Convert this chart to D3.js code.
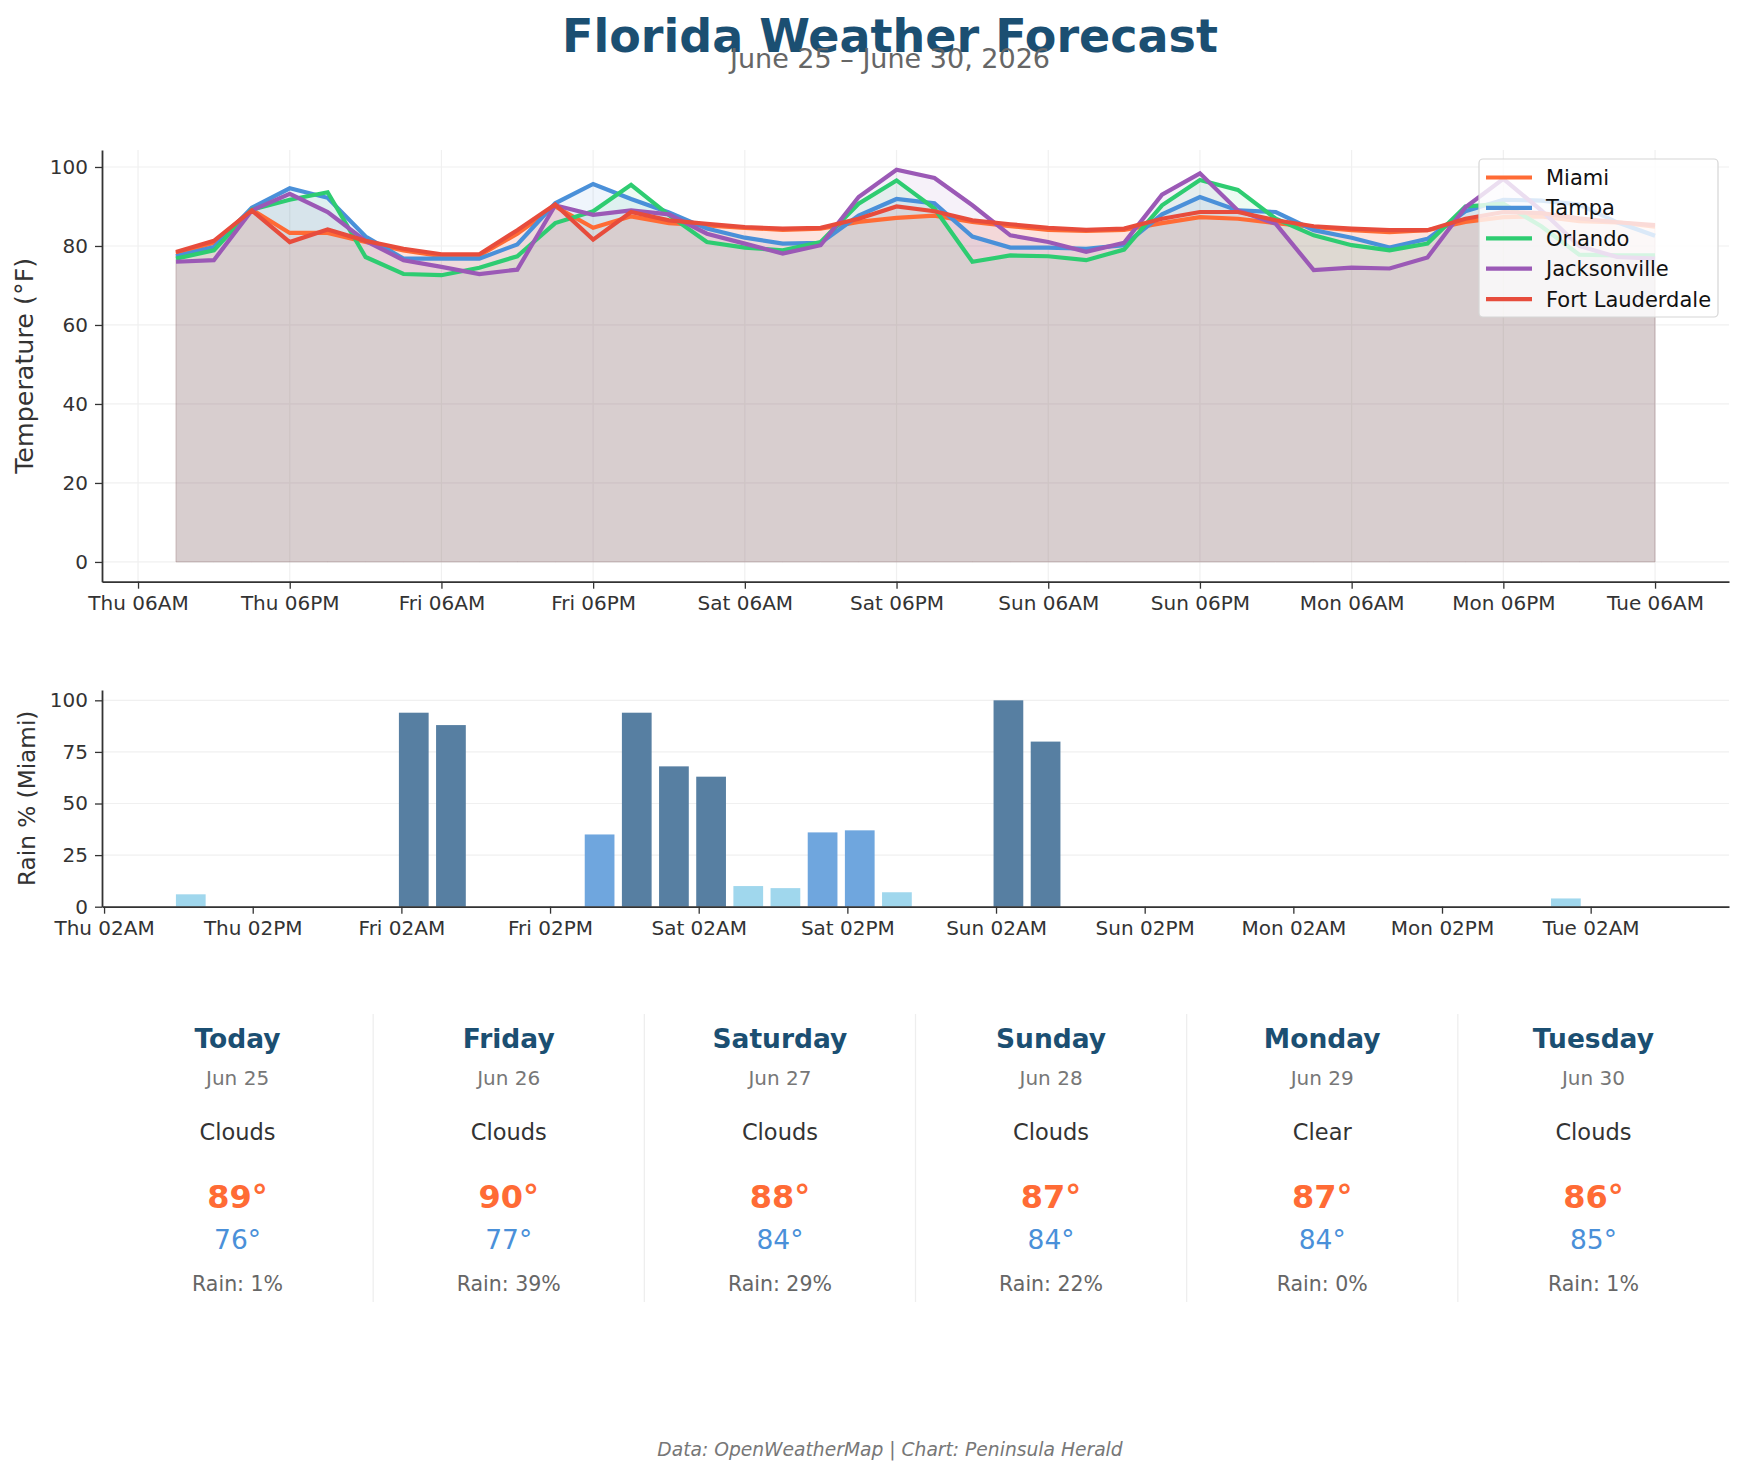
<!DOCTYPE html>
<html>
<head>
<meta charset="utf-8">
<script src="https://cdn.jsdelivr.net/npm/d3@7"></script>
<style>
  body { margin: 0; background: #fff; }
  svg { font-family: "DejaVu Sans", sans-serif; }
</style>
</head>
<body>
<div id="chart"></div>
<script>
// ---------- Data ----------
const times = [
  "2026-06-25T09:00", "2026-06-25T12:00", "2026-06-25T15:00", "2026-06-25T18:00", "2026-06-25T21:00",
  "2026-06-26T00:00", "2026-06-26T03:00", "2026-06-26T06:00", "2026-06-26T09:00", "2026-06-26T12:00",
  "2026-06-26T15:00", "2026-06-26T18:00", "2026-06-26T21:00", "2026-06-27T00:00", "2026-06-27T03:00",
  "2026-06-27T06:00", "2026-06-27T09:00", "2026-06-27T12:00", "2026-06-27T15:00", "2026-06-27T18:00",
  "2026-06-27T21:00", "2026-06-28T00:00", "2026-06-28T03:00", "2026-06-28T06:00", "2026-06-28T09:00",
  "2026-06-28T12:00", "2026-06-28T15:00", "2026-06-28T18:00", "2026-06-28T21:00", "2026-06-29T00:00",
  "2026-06-29T03:00", "2026-06-29T06:00", "2026-06-29T09:00", "2026-06-29T12:00", "2026-06-29T15:00",
  "2026-06-29T18:00", "2026-06-29T21:00", "2026-06-30T00:00", "2026-06-30T03:00", "2026-06-30T06:00"
];

const cities = ["Miami", "Tampa", "Orlando", "Jacksonville", "Fort Lauderdale"];
const cityColors = ["#FF6B35", "#4A90D9", "#2ECC71", "#9B59B6", "#E74C3C"];

const miami = [78.1, 80.8, 89.2, 83.3, 83.3, 81.0, 78.9, 77.4, 77.6, 83.1, 90.0, 84.6, 87.5, 85.8, 85.2, 84.6, 84.1, 84.4, 86.1, 87.1,
  87.7, 86.1, 85.0, 84.1, 83.8, 84.1, 85.8, 87.3, 86.9, 85.8, 84.8, 84.0, 83.5, 84.0, 86.1, 87.3, 87.5, 86.3, 86.0, 84.9];
const tampa = [77.4, 79.7, 89.7, 94.6, 92.2, 82.4, 76.8, 76.8, 76.8, 80.4, 90.8, 95.7, 91.9, 88.5, 84.4, 82.1, 80.6, 80.8, 87.7, 91.9,
  90.8, 82.4, 79.6, 79.6, 79.3, 80.2, 88.0, 92.4, 89.0, 88.6, 84.0, 82.1, 79.6, 81.8, 88.8, 91.7, 91.5, 90.5, 86.0, 82.6];
const orlando = [76.8, 78.9, 89.2, 91.7, 93.6, 77.2, 72.9, 72.6, 74.5, 77.4, 85.8, 88.8, 95.5, 87.8, 81.0, 79.6, 78.9, 81.0, 90.7, 96.6,
  89.5, 76.0, 77.6, 77.4, 76.4, 79.1, 90.3, 96.7, 94.2, 86.9, 82.7, 80.2, 78.9, 80.6, 90.0, 90.7, 85.0, 77.8, 77.6, 77.6];
const jacksonville = [76.0, 76.4, 89.0, 93.2, 88.6, 81.3, 76.4, 74.7, 72.9, 74.0, 90.3, 87.9, 89.0, 88.0, 83.1, 80.6, 78.1, 80.2, 92.4, 99.3,
  97.2, 90.3, 82.7, 81.0, 78.5, 80.8, 93.0, 98.4, 89.0, 85.6, 73.9, 74.5, 74.3, 77.1, 89.8, 97.0, 89.0, 80.0, 77.2, 76.8];
const fortLauderdale = [78.5, 81.3, 89.0, 81.0, 84.2, 81.3, 79.3, 77.9, 77.9, 84.0, 90.5, 81.6, 88.6, 86.5, 85.6, 84.8, 84.4, 84.6, 86.9, 90.0,
  88.8, 86.5, 85.5, 84.6, 84.1, 84.4, 86.9, 88.6, 88.6, 86.5, 85.0, 84.4, 84.0, 84.0, 86.9, 88.6, 88.3, 87.0, 86.0, 85.3];
const temps = [miami, tampa, orlando, jacksonville, fortLauderdale];

// Miami rain probability (%) at each forecast step
const rainMiami = [6, 0, 0, 0, 0, 0, 94, 88, 0, 0, 0, 35, 94, 68, 63, 10, 9, 36, 37, 7,
  0, 0, 100, 80, 0, 0, 0, 0, 0, 0, 0, 0, 0, 0, 0, 0, 0, 4, 0, 0];

const tempTicks = ["2026-06-25T06:00", "2026-06-25T18:00", "2026-06-26T06:00", "2026-06-26T18:00", "2026-06-27T06:00",
  "2026-06-27T18:00", "2026-06-28T06:00", "2026-06-28T18:00", "2026-06-29T06:00", "2026-06-29T18:00", "2026-06-30T06:00"];
const rainTicks = ["2026-06-25T02:00", "2026-06-25T14:00", "2026-06-26T02:00", "2026-06-26T14:00", "2026-06-27T02:00",
  "2026-06-27T14:00", "2026-06-28T02:00", "2026-06-28T14:00", "2026-06-29T02:00", "2026-06-29T14:00", "2026-06-30T02:00"];
const tempYTicks = [0, 20, 40, 60, 80, 100];
const rainYTicks = [0, 25, 50, 75, 100];

// daily summary cards
const dayNames = ["Today", "Friday", "Saturday", "Sunday", "Monday", "Tuesday"];
const dayDates = ["Jun 25", "Jun 26", "Jun 27", "Jun 28", "Jun 29", "Jun 30"];
const dayConditions = ["Clouds", "Clouds", "Clouds", "Clouds", "Clear", "Clouds"];
const dayHighs = [89, 90, 88, 87, 87, 86];
const dayLows = [76, 77, 84, 84, 84, 85];
const dayRain = [1, 39, 29, 22, 0, 1];

// ---------- Setup ----------
const parse = d3.timeParse("%Y-%m-%dT%H:%M");
const T = times.map(parse);
const fmt = d3.timeFormat("%a %I%p");

const W = 1744, H = 1474;
const svg = d3.select("#chart").append("svg")
  .attr("width", W).attr("height", H)
  .style("background", "#fff");

const navy = "#1B4F72";
const axisColor = "#333";
const gridColor = "#f0f0f0";

// ---------- Title ----------
svg.append("text").attr("x", 890).attr("y", 52).attr("text-anchor", "middle")
  .attr("font-size", 46).attr("font-weight", "bold").attr("fill", navy)
  .text("Florida Weather Forecast");
svg.append("text").attr("x", 890).attr("y", 68).attr("text-anchor", "middle")
  .attr("font-size", 27).attr("fill", "#666")
  .text("June 25 – June 30, 2026");

function styleAxis(g) {
  g.selectAll("text").attr("font-size", 20).attr("fill", axisColor).attr("font-family", "DejaVu Sans");
  g.selectAll(".tick line").attr("stroke", axisColor).attr("stroke-width", 1.3);
  g.select(".domain").attr("stroke", axisColor).attr("stroke-width", 1.8);
}

// ---------- Temperature panel ----------
const tp = { left: 102, right: 1729, top: 150, bottom: 581.7 };
const x = d3.scaleTime()
  .domain([d3.timeMinute.offset(T[0], -351), d3.timeMinute.offset(T[T.length - 1], 351)])
  .range([tp.left, tp.right]);
const y = d3.scaleLinear().domain([-5, 104.3]).range([tp.bottom, tp.top]);

const gTemp = svg.append("g");

// grid
gTemp.append("g").selectAll("line").data(tempYTicks).join("line")
  .attr("x1", tp.left).attr("x2", tp.right)
  .attr("y1", d => y(d)).attr("y2", d => y(d))
  .attr("stroke", gridColor).attr("stroke-width", 1.2);
gTemp.append("g").selectAll("line").data(tempTicks.map(parse)).join("line")
  .attr("x1", d => x(d)).attr("x2", d => x(d))
  .attr("y1", tp.top).attr("y2", tp.bottom)
  .attr("stroke", gridColor).attr("stroke-width", 1.2);

// fills
const area = d3.area().x((d, i) => x(T[i])).y0(y(0)).y1(d => y(d));
const line = d3.line().x((d, i) => x(T[i])).y(d => y(d));

temps.forEach((s, k) => {
  gTemp.append("path").datum(s).attr("d", area)
    .attr("fill", cityColors[k]).attr("fill-opacity", 0.085)
    .attr("stroke", cityColors[k]).attr("stroke-opacity", 0.08).attr("stroke-width", 1);
});
temps.forEach((s, k) => {
  gTemp.append("path").datum(s).attr("d", line)
    .attr("fill", "none").attr("stroke", cityColors[k])
    .attr("stroke-width", 4.2).attr("stroke-linejoin", "miter");
});

// axes
gTemp.append("g").attr("transform", `translate(0,${tp.bottom})`)
  .call(d3.axisBottom(x).tickValues(tempTicks.map(parse)).tickFormat(fmt).tickSize(7).tickPadding(7).tickSizeOuter(0))
  .call(styleAxis);
gTemp.append("g").attr("transform", `translate(${tp.left},0)`)
  .call(d3.axisLeft(y).tickValues(tempYTicks).tickSize(7).tickPadding(7).tickSizeOuter(0))
  .call(styleAxis);

svg.append("text")
  .attr("transform", `translate(33,${(tp.top + tp.bottom) / 2}) rotate(-90)`)
  .attr("text-anchor", "middle").attr("font-size", 25.4).attr("fill", axisColor)
  .text("Temperature (°F)");

// legend
const leg = svg.append("g");
const legX = 1479, legY = 159, rowH = 30.4;
leg.append("rect").attr("x", legX).attr("y", legY).attr("width", 239).attr("height", 158)
  .attr("rx", 4).attr("fill", "#fff").attr("fill-opacity", 0.8)
  .attr("stroke", "#d6d6d6").attr("stroke-width", 1.2);
cities.forEach((c, k) => {
  const cy = legY + 18.5 + k * rowH;
  leg.append("line").attr("x1", legX + 7).attr("x2", legX + 53)
    .attr("y1", cy).attr("y2", cy)
    .attr("stroke", cityColors[k]).attr("stroke-width", 4.2);
  leg.append("text").attr("x", legX + 67).attr("y", cy).attr("dy", "0.36em")
    .attr("font-size", 21).attr("fill", "#111").text(c);
});

// ---------- Rain panel ----------
const rp = { left: 102, right: 1729, top: 690, bottom: 906.7 };
const xr = d3.scaleTime()
  .domain([d3.timeMinute.offset(T[0], -430), d3.timeMinute.offset(T[T.length - 1], 430)])
  .range([rp.left, rp.right]);
const yr = d3.scaleLinear().domain([0, 105]).range([rp.bottom, rp.top]);
const barW = xr(d3.timeMinute.offset(T[0], 144)) - xr(T[0]);

function rainColor(v) {
  if (v >= 50) return "#577FA2";
  if (v >= 20) return "#6FA6DE";
  return "#A0D7ED";
}

const gRain = svg.append("g");
gRain.append("g").selectAll("line").data(rainYTicks).join("line")
  .attr("x1", rp.left).attr("x2", rp.right)
  .attr("y1", d => yr(d)).attr("y2", d => yr(d))
  .attr("stroke", gridColor).attr("stroke-width", 1.2);

gRain.append("g").selectAll("rect").data(rainMiami).join("rect")
  .attr("x", (d, i) => xr(T[i]) - barW / 2)
  .attr("width", barW)
  .attr("y", d => yr(d))
  .attr("height", d => yr(0) - yr(d))
  .attr("fill", d => rainColor(d));

gRain.append("g").attr("transform", `translate(0,${rp.bottom})`)
  .call(d3.axisBottom(xr).tickValues(rainTicks.map(parse).filter(t => t <= xr.domain()[1])).tickFormat(fmt).tickSize(7).tickPadding(7).tickSizeOuter(0))
  .call(styleAxis);
gRain.append("g").attr("transform", `translate(${rp.left},0)`)
  .call(d3.axisLeft(yr).tickValues(rainYTicks).tickSize(7).tickPadding(7).tickSizeOuter(0))
  .call(styleAxis);

svg.append("text")
  .attr("transform", `translate(35,${(rp.top + rp.bottom) / 2}) rotate(-90)`)
  .attr("text-anchor", "middle").attr("font-size", 23.2).attr("fill", axisColor)
  .text("Rain % (Miami)");

// ---------- Daily cards ----------
const colW = (rp.right - rp.left) / dayNames.length;
const cards = svg.append("g");
for (let k = 1; k < dayNames.length; k++) {
  cards.append("line")
    .attr("x1", rp.left + k * colW).attr("x2", rp.left + k * colW)
    .attr("y1", 1014).attr("y2", 1302)
    .attr("stroke", "#eeeeee").attr("stroke-width", 1.3);
}
dayNames.forEach((d, i) => {
  const cx = rp.left + colW * (i + 0.5);
  const g = cards.append("g").attr("text-anchor", "middle");
  g.append("text").attr("x", cx).attr("y", 1048).attr("font-size", 26.5)
    .attr("font-weight", "bold").attr("fill", navy).text(d);
  g.append("text").attr("x", cx).attr("y", 1085).attr("font-size", 20)
    .attr("fill", "#777").text(dayDates[i]);
  g.append("text").attr("x", cx).attr("y", 1140).attr("font-size", 22.5)
    .attr("fill", "#333").text(dayConditions[i]);
  g.append("text").attr("x", cx).attr("y", 1208).attr("font-size", 32)
    .attr("font-weight", "bold").attr("fill", "#FF6B35").text(dayHighs[i] + "°");
  g.append("text").attr("x", cx).attr("y", 1249).attr("font-size", 26.5)
    .attr("fill", "#4A90D9").text(dayLows[i] + "°");
  g.append("text").attr("x", cx).attr("y", 1291).attr("font-size", 20.5)
    .attr("fill", "#666").text("Rain: " + dayRain[i] + "%");
});

// ---------- Footer ----------
svg.append("text").attr("x", 890).attr("y", 1456).attr("text-anchor", "middle")
  .attr("font-size", 18.7).attr("font-style", "italic").attr("fill", "#777")
  .text("Data: OpenWeatherMap | Chart: Peninsula Herald");
</script>
</body>
</html>
